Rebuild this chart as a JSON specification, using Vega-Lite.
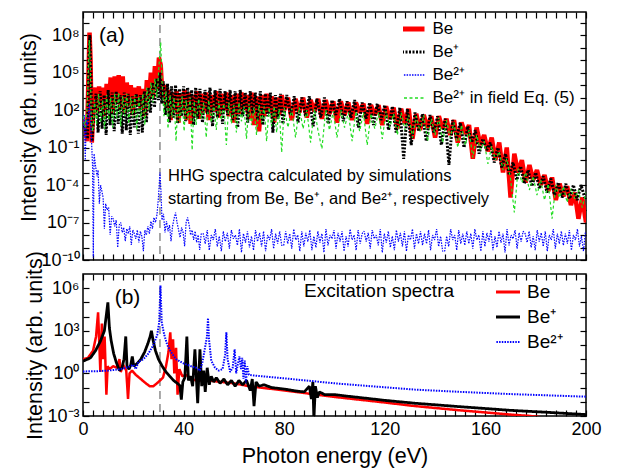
{
"$schema":"https://vega.github.io/schema/vega-lite/v6.json",
"padding":{"left":18,"top":10,"right":5,"bottom":0},
"background":"white",
"config":{
 "font":"Liberation Sans",
 "view":{"stroke":"black","strokeWidth":1.5},
 "axis":{"grid":false,"domain":false,"ticks":true,"tickColor":"black","tickWidth":1.2,"tickSize":-6,"labelFont":"Liberation Sans","labelFontSize":18,"labelColor":"black","labelPadding":10,"labelFlush":false,"labelOverlap":false,"titleFont":"Liberation Sans","titleFontSize":21.5,"titleFontWeight":"normal","titleColor":"black","minExtent":0},
 "legend":{"symbolType":"stroke","labelFont":"Liberation Sans","labelColor":"black","padding":0,"rowPadding":0},
 "text":{"font":"Liberation Sans","color":"black"}
},
"datasets":{
"hhg":[
{"x":0,"y":15.8,"s":"Be"},{"x":1,"y":6.3,"s":"Be"},{"x":1.6,"y":0.32,"s":"Be"},{"x":2.2,"y":1e5,"s":"Be"},{"x":2.6,"y":1.58e8,"s":"Be"},{"x":3,"y":1e6,"s":"Be"},{"x":3.5,"y":0.25,"s":"Be"},{"x":4.2,"y":320,"s":"Be"},{"x":5,"y":6300,"s":"Be"},{"x":5.6,"y":63,"s":"Be"},{"x":6.4,"y":7900,"s":"Be"},{"x":7.2,"y":100,"s":"Be"},{"x":7.8,"y":6300,"s":"Be"},{"x":8.6,"y":32,"s":"Be"},{"x":9.4,"y":12600,"s":"Be"},{"x":10.2,"y":158,"s":"Be"},{"x":11,"y":40000,"s":"Be"},{"x":11.8,"y":50,"s":"Be"},{"x":12.6,"y":50000,"s":"Be"},{"x":13.4,"y":320,"s":"Be"},{"x":14.2,"y":63000,"s":"Be"},{"x":15,"y":100,"s":"Be"},{"x":15.8,"y":50000,"s":"Be"},{"x":16.6,"y":63,"s":"Be"},{"x":17.4,"y":15800,"s":"Be"},{"x":18.2,"y":200,"s":"Be"},{"x":19,"y":10000,"s":"Be"},{"x":19.8,"y":40,"s":"Be"},{"x":20.6,"y":6300,"s":"Be"},{"x":21.4,"y":250,"s":"Be"},{"x":22.2,"y":7900,"s":"Be"},{"x":23,"y":100,"s":"Be"},{"x":23.8,"y":5000,"s":"Be"},{"x":24.6,"y":32,"s":"Be"},{"x":25.4,"y":25000,"s":"Be"},{"x":26.2,"y":630,"s":"Be"},{"x":27,"y":1e5,"s":"Be"},{"x":27.8,"y":1000,"s":"Be"},{"x":28.6,"y":3.2e5,"s":"Be"},{"x":29.4,"y":4000,"s":"Be"},{"x":30.2,"y":1.58e6,"s":"Be"},{"x":30.9,"y":4e5,"s":"Be"},{"x":31.6,"y":1000,"s":"Be"},{"x":32.4,"y":10000,"s":"Be"},{"x":33.2,"y":158,"s":"Be"},{"x":34,"y":4000,"s":"Be"},{"x":34.8,"y":15.8,"s":"Be"},{"x":35.6,"y":2500,"s":"Be"},{"x":36.4,"y":63,"s":"Be"},{"x":37.2,"y":3200,"s":"Be"},{"x":38,"y":10,"s":"Be"},{"x":38.8,"y":2000,"s":"Be"},{"x":39.6,"y":100,"s":"Be"},{"x":40.4,"y":4000,"s":"Be"},{"x":41.2,"y":15.8,"s":"Be"},{"x":42,"y":2500,"s":"Be"},{"x":42.8,"y":7.9,"s":"Be"},{"x":43.6,"y":1580,"s":"Be"},{"x":44.4,"y":40,"s":"Be"},{"x":45.2,"y":3200,"s":"Be"},{"x":46,"y":20,"s":"Be"},{"x":47,"y":2000,"s":"Be"},{"x":48,"y":63,"s":"Be"},{"x":49,"y":2500,"s":"Be"},{"x":50,"y":15.8,"s":"Be"},{"x":51,"y":1580,"s":"Be"},{"x":52,"y":79,"s":"Be"},{"x":53,"y":3200,"s":"Be"},{"x":54,"y":25,"s":"Be"},{"x":55,"y":2000,"s":"Be"},{"x":56,"y":100,"s":"Be"},{"x":57,"y":2500,"s":"Be"},{"x":58,"y":32,"s":"Be"},{"x":59,"y":1580,"s":"Be"},{"x":60,"y":10,"s":"Be"},{"x":61,"y":2000,"s":"Be"},{"x":62,"y":50,"s":"Be"},{"x":63,"y":2500,"s":"Be"},{"x":64,"y":100,"s":"Be"},{"x":65,"y":1580,"s":"Be"},{"x":66,"y":20,"s":"Be"},{"x":67,"y":2500,"s":"Be"},{"x":68,"y":6.3,"s":"Be"},{"x":69,"y":1260,"s":"Be"},{"x":70,"y":2,"s":"Be"},{"x":71,"y":1580,"s":"Be"},{"x":72,"y":32,"s":"Be"},{"x":73,"y":2000,"s":"Be"},{"x":74,"y":63,"s":"Be"},{"x":75,"y":1260,"s":"Be"},{"x":76,"y":10,"s":"Be"},{"x":77,"y":1000,"s":"Be"},{"x":78,"y":40,"s":"Be"},{"x":79,"y":1580,"s":"Be"},{"x":80,"y":100,"s":"Be"},{"x":81.5,"y":1000,"s":"Be"},{"x":83,"y":15.8,"s":"Be"},{"x":84.5,"y":790,"s":"Be"},{"x":86,"y":63,"s":"Be"},{"x":87.5,"y":1000,"s":"Be"},{"x":89,"y":25,"s":"Be"},{"x":90.5,"y":630,"s":"Be"},{"x":92,"y":79,"s":"Be"},{"x":93.5,"y":790,"s":"Be"},{"x":95,"y":20,"s":"Be"},{"x":96.5,"y":630,"s":"Be"},{"x":98,"y":50,"s":"Be"},{"x":99.5,"y":500,"s":"Be"},{"x":101,"y":10,"s":"Be"},{"x":102.5,"y":500,"s":"Be"},{"x":104,"y":40,"s":"Be"},{"x":105.5,"y":400,"s":"Be"},{"x":107,"y":15.8,"s":"Be"},{"x":108.5,"y":400,"s":"Be"},{"x":110,"y":63,"s":"Be"},{"x":111.5,"y":320,"s":"Be"},{"x":113,"y":7.9,"s":"Be"},{"x":114.5,"y":250,"s":"Be"},{"x":116,"y":40,"s":"Be"},{"x":117.5,"y":250,"s":"Be"},{"x":119,"y":6.3,"s":"Be"},{"x":120.5,"y":200,"s":"Be"},{"x":122,"y":20,"s":"Be"},{"x":123.5,"y":158,"s":"Be"},{"x":125,"y":3.2,"s":"Be"},{"x":126.5,"y":126,"s":"Be"},{"x":128,"y":7.9,"s":"Be"},{"x":129.5,"y":126,"s":"Be"},{"x":131,"y":0.5,"s":"Be"},{"x":132.5,"y":50,"s":"Be"},{"x":134,"y":2.5,"s":"Be"},{"x":135.5,"y":40,"s":"Be"},{"x":137,"y":4,"s":"Be"},{"x":138.5,"y":32,"s":"Be"},{"x":140,"y":0.63,"s":"Be"},{"x":141.5,"y":32,"s":"Be"},{"x":143,"y":3.2,"s":"Be"},{"x":144.5,"y":20,"s":"Be"},{"x":146,"y":1,"s":"Be"},{"x":147.5,"y":15.8,"s":"Be"},{"x":149,"y":0.25,"s":"Be"},{"x":150.5,"y":10,"s":"Be"},{"x":152,"y":1.26,"s":"Be"},{"x":153.5,"y":6.3,"s":"Be"},{"x":155,"y":0.0126,"s":"Be"},{"x":156.5,"y":4,"s":"Be"},{"x":158,"y":0.158,"s":"Be"},{"x":159.5,"y":1,"s":"Be"},{"x":161,"y":0.05,"s":"Be"},{"x":162.5,"y":0.63,"s":"Be"},{"x":164,"y":0.01,"s":"Be"},{"x":165.5,"y":0.25,"s":"Be"},{"x":167,"y":0.001,"s":"Be"},{"x":168.5,"y":0.1,"s":"Be"},{"x":170,"y":1e-5,"s":"Be"},{"x":171.5,"y":0.032,"s":"Be"},{"x":173,"y":0.001,"s":"Be"},{"x":174.5,"y":0.01,"s":"Be"},{"x":176,"y":1.58e-4,"s":"Be"},{"x":177.5,"y":0.004,"s":"Be"},{"x":179,"y":2.5e-4,"s":"Be"},{"x":180.5,"y":0.00158,"s":"Be"},{"x":182,"y":1e-4,"s":"Be"},{"x":183.5,"y":6.3e-4,"s":"Be"},{"x":185,"y":3.2e-5,"s":"Be"},{"x":186.5,"y":4e-4,"s":"Be"},{"x":188,"y":6.3e-6,"s":"Be"},{"x":189.5,"y":1.26e-4,"s":"Be"},{"x":191,"y":1.26e-5,"s":"Be"},{"x":192.5,"y":7.9e-5,"s":"Be"},{"x":194,"y":2.5e-6,"s":"Be"},{"x":195.5,"y":2.5e-5,"s":"Be"},{"x":197,"y":2e-7,"s":"Be"},{"x":198.5,"y":1e-5,"s":"Be"},{"x":200,"y":1e-7,"s":"Be"},
{"x":0,"y":10,"s":"Be⁺"},{"x":1,"y":2.5,"s":"Be⁺"},{"x":1.8,"y":0.5,"s":"Be⁺"},{"x":2.3,"y":1e6,"s":"Be⁺"},{"x":2.7,"y":1e8,"s":"Be⁺"},{"x":3.1,"y":1e5,"s":"Be⁺"},{"x":3.6,"y":0.32,"s":"Be⁺"},{"x":4.4,"y":100,"s":"Be⁺"},{"x":5.2,"y":2000,"s":"Be⁺"},{"x":6,"y":1.58,"s":"Be⁺"},{"x":6.8,"y":3200,"s":"Be⁺"},{"x":7.6,"y":3.2,"s":"Be⁺"},{"x":8.4,"y":1580,"s":"Be⁺"},{"x":9.2,"y":1,"s":"Be⁺"},{"x":10,"y":4000,"s":"Be⁺"},{"x":10.8,"y":6.3,"s":"Be⁺"},{"x":11.6,"y":2500,"s":"Be⁺"},{"x":12.4,"y":2,"s":"Be⁺"},{"x":13.2,"y":3200,"s":"Be⁺"},{"x":14,"y":7.9,"s":"Be⁺"},{"x":14.8,"y":1580,"s":"Be⁺"},{"x":15.6,"y":1.26,"s":"Be⁺"},{"x":16.4,"y":2500,"s":"Be⁺"},{"x":17.2,"y":2.5,"s":"Be⁺"},{"x":18,"y":2000,"s":"Be⁺"},{"x":18.8,"y":1,"s":"Be⁺"},{"x":19.6,"y":1260,"s":"Be⁺"},{"x":20.4,"y":4,"s":"Be⁺"},{"x":21.2,"y":2000,"s":"Be⁺"},{"x":22,"y":1.26,"s":"Be⁺"},{"x":22.8,"y":1580,"s":"Be⁺"},{"x":23.6,"y":1.58,"s":"Be⁺"},{"x":24.4,"y":3200,"s":"Be⁺"},{"x":25.2,"y":10,"s":"Be⁺"},{"x":26,"y":6300,"s":"Be⁺"},{"x":26.8,"y":63,"s":"Be⁺"},{"x":27.6,"y":15800,"s":"Be⁺"},{"x":28.4,"y":158,"s":"Be⁺"},{"x":29.2,"y":32000,"s":"Be⁺"},{"x":30,"y":630,"s":"Be⁺"},{"x":30.6,"y":1e5,"s":"Be⁺"},{"x":31.3,"y":320,"s":"Be⁺"},{"x":32,"y":20000,"s":"Be⁺"},{"x":32.8,"y":40,"s":"Be⁺"},{"x":33.6,"y":12600,"s":"Be⁺"},{"x":34.4,"y":10,"s":"Be⁺"},{"x":35.2,"y":7900,"s":"Be⁺"},{"x":36,"y":25,"s":"Be⁺"},{"x":36.8,"y":10000,"s":"Be⁺"},{"x":37.6,"y":7.9,"s":"Be⁺"},{"x":38.4,"y":5000,"s":"Be⁺"},{"x":39.2,"y":32,"s":"Be⁺"},{"x":40,"y":7900,"s":"Be⁺"},{"x":40.8,"y":12.6,"s":"Be⁺"},{"x":41.6,"y":6300,"s":"Be⁺"},{"x":42.4,"y":40,"s":"Be⁺"},{"x":43.2,"y":4000,"s":"Be⁺"},{"x":44,"y":6.3,"s":"Be⁺"},{"x":44.8,"y":6300,"s":"Be⁺"},{"x":45.6,"y":20,"s":"Be⁺"},{"x":46.5,"y":5000,"s":"Be⁺"},{"x":47.5,"y":10,"s":"Be⁺"},{"x":48.5,"y":4000,"s":"Be⁺"},{"x":49.5,"y":50,"s":"Be⁺"},{"x":50.5,"y":6300,"s":"Be⁺"},{"x":51.5,"y":5,"s":"Be⁺"},{"x":52.5,"y":4000,"s":"Be⁺"},{"x":53.5,"y":25,"s":"Be⁺"},{"x":54.5,"y":5000,"s":"Be⁺"},{"x":55.5,"y":7.9,"s":"Be⁺"},{"x":56.5,"y":3200,"s":"Be⁺"},{"x":57.5,"y":40,"s":"Be⁺"},{"x":58.5,"y":4000,"s":"Be⁺"},{"x":59.5,"y":15.8,"s":"Be⁺"},{"x":60.5,"y":3200,"s":"Be⁺"},{"x":61.5,"y":4,"s":"Be⁺"},{"x":62.5,"y":4000,"s":"Be⁺"},{"x":63.5,"y":32,"s":"Be⁺"},{"x":64.5,"y":2500,"s":"Be⁺"},{"x":65.5,"y":10,"s":"Be⁺"},{"x":66.5,"y":3200,"s":"Be⁺"},{"x":67.5,"y":50,"s":"Be⁺"},{"x":68.5,"y":2500,"s":"Be⁺"},{"x":69.5,"y":15.8,"s":"Be⁺"},{"x":70.5,"y":3200,"s":"Be⁺"},{"x":71.5,"y":6.3,"s":"Be⁺"},{"x":72.5,"y":2000,"s":"Be⁺"},{"x":73.5,"y":32,"s":"Be⁺"},{"x":74.5,"y":2500,"s":"Be⁺"},{"x":75.5,"y":1.58,"s":"Be⁺"},{"x":76.5,"y":1580,"s":"Be⁺"},{"x":77.5,"y":20,"s":"Be⁺"},{"x":78.5,"y":2000,"s":"Be⁺"},{"x":79.5,"y":7.9,"s":"Be⁺"},{"x":81,"y":1580,"s":"Be⁺"},{"x":82.5,"y":40,"s":"Be⁺"},{"x":84,"y":1260,"s":"Be⁺"},{"x":85.5,"y":10,"s":"Be⁺"},{"x":87,"y":1000,"s":"Be⁺"},{"x":88.5,"y":32,"s":"Be⁺"},{"x":90,"y":1260,"s":"Be⁺"},{"x":91.5,"y":5,"s":"Be⁺"},{"x":93,"y":790,"s":"Be⁺"},{"x":94.5,"y":25,"s":"Be⁺"},{"x":96,"y":1000,"s":"Be⁺"},{"x":97.5,"y":7.9,"s":"Be⁺"},{"x":99,"y":630,"s":"Be⁺"},{"x":100.5,"y":40,"s":"Be⁺"},{"x":102,"y":790,"s":"Be⁺"},{"x":103.5,"y":12.6,"s":"Be⁺"},{"x":105,"y":500,"s":"Be⁺"},{"x":106.5,"y":25,"s":"Be⁺"},{"x":108,"y":630,"s":"Be⁺"},{"x":109.5,"y":4,"s":"Be⁺"},{"x":111,"y":400,"s":"Be⁺"},{"x":112.5,"y":20,"s":"Be⁺"},{"x":114,"y":400,"s":"Be⁺"},{"x":115.5,"y":6.3,"s":"Be⁺"},{"x":117,"y":320,"s":"Be⁺"},{"x":118.5,"y":15.8,"s":"Be⁺"},{"x":120,"y":250,"s":"Be⁺"},{"x":121.5,"y":2.5,"s":"Be⁺"},{"x":123,"y":200,"s":"Be⁺"},{"x":124.5,"y":1.58,"s":"Be⁺"},{"x":126,"y":158,"s":"Be⁺"},{"x":127.5,"y":0.0126,"s":"Be⁺"},{"x":129,"y":126,"s":"Be⁺"},{"x":130.5,"y":0.158,"s":"Be⁺"},{"x":132,"y":63,"s":"Be⁺"},{"x":133.5,"y":2,"s":"Be⁺"},{"x":135,"y":50,"s":"Be⁺"},{"x":136.5,"y":0.32,"s":"Be⁺"},{"x":138,"y":40,"s":"Be⁺"},{"x":139.5,"y":1.58,"s":"Be⁺"},{"x":141,"y":32,"s":"Be⁺"},{"x":142.5,"y":0.158,"s":"Be⁺"},{"x":144,"y":20,"s":"Be⁺"},{"x":145.5,"y":0.004,"s":"Be⁺"},{"x":147,"y":15.8,"s":"Be⁺"},{"x":148.5,"y":0.5,"s":"Be⁺"},{"x":150,"y":10,"s":"Be⁺"},{"x":151.5,"y":0.1,"s":"Be⁺"},{"x":153,"y":5,"s":"Be⁺"},{"x":154.5,"y":0.25,"s":"Be⁺"},{"x":156,"y":2.5,"s":"Be⁺"},{"x":157.5,"y":0.032,"s":"Be⁺"},{"x":159,"y":0.5,"s":"Be⁺"},{"x":160.5,"y":0.063,"s":"Be⁺"},{"x":162,"y":0.25,"s":"Be⁺"},{"x":163.5,"y":0.0063,"s":"Be⁺"},{"x":165,"y":0.1,"s":"Be⁺"},{"x":166.5,"y":0.0025,"s":"Be⁺"},{"x":168,"y":0.032,"s":"Be⁺"},{"x":169.5,"y":6.3e-4,"s":"Be⁺"},{"x":171,"y":0.0063,"s":"Be⁺"},{"x":172.5,"y":2.5e-4,"s":"Be⁺"},{"x":174,"y":0.0032,"s":"Be⁺"},{"x":175.5,"y":1.26e-4,"s":"Be⁺"},{"x":177,"y":0.00158,"s":"Be⁺"},{"x":178.5,"y":7.9e-5,"s":"Be⁺"},{"x":180,"y":0.001,"s":"Be⁺"},{"x":181.5,"y":5e-5,"s":"Be⁺"},{"x":183,"y":5e-4,"s":"Be⁺"},{"x":184.5,"y":2.5e-5,"s":"Be⁺"},{"x":186,"y":3.2e-4,"s":"Be⁺"},{"x":187.5,"y":1.58e-5,"s":"Be⁺"},{"x":189,"y":1.58e-4,"s":"Be⁺"},{"x":190.5,"y":1e-5,"s":"Be⁺"},{"x":192,"y":1.26e-4,"s":"Be⁺"},{"x":193.5,"y":7.9e-6,"s":"Be⁺"},{"x":195,"y":1e-4,"s":"Be⁺"},{"x":196.5,"y":6.3e-6,"s":"Be⁺"},{"x":198,"y":1e-4,"s":"Be⁺"},{"x":199.5,"y":1e-5,"s":"Be⁺"},
{"x":0,"y":3.2,"s":"Be²⁺"},{"x":0.5,"y":40,"s":"Be²⁺"},{"x":0.9,"y":0.01,"s":"Be²⁺"},{"x":1.3,"y":15.8,"s":"Be²⁺"},{"x":1.8,"y":6.3,"s":"Be²⁺"},{"x":2.2,"y":63,"s":"Be²⁺"},{"x":2.6,"y":320,"s":"Be²⁺"},{"x":3,"y":10,"s":"Be²⁺"},{"x":3.4,"y":0.32,"s":"Be²⁺"},{"x":3.8,"y":0.0032,"s":"Be²⁺"},{"x":4.1,"y":1.58e-10,"s":"Be²⁺"},{"x":4.4,"y":0.032,"s":"Be²⁺"},{"x":5,"y":0.0032,"s":"Be²⁺"},{"x":5.6,"y":5e-4,"s":"Be²⁺"},{"x":6,"y":0.00158,"s":"Be²⁺"},{"x":6.5,"y":3.2e-6,"s":"Be²⁺"},{"x":7,"y":1e-4,"s":"Be²⁺"},{"x":7.5,"y":3.2e-5,"s":"Be²⁺"},{"x":8,"y":1e-5,"s":"Be²⁺"},{"x":8.5,"y":3.2e-8,"s":"Be²⁺"},{"x":9,"y":3.2e-6,"s":"Be²⁺"},{"x":9.6,"y":1e-6,"s":"Be²⁺"},{"x":10.2,"y":1.58e-6,"s":"Be²⁺"},{"x":10.8,"y":1e-8,"s":"Be²⁺"},{"x":11.4,"y":3.2e-7,"s":"Be²⁺"},{"x":12,"y":2e-7,"s":"Be²⁺"},{"x":12.6,"y":5e-8,"s":"Be²⁺"},{"x":13.2,"y":1.58e-7,"s":"Be²⁺"},{"x":13.8,"y":1e-9,"s":"Be²⁺"},{"x":14.4,"y":6.3e-8,"s":"Be²⁺"},{"x":15,"y":1e-7,"s":"Be²⁺"},{"x":15.6,"y":1.58e-8,"s":"Be²⁺"},{"x":16.2,"y":4e-8,"s":"Be²⁺"},{"x":16.8,"y":3.2e-9,"s":"Be²⁺"},{"x":17.4,"y":3.2e-8,"s":"Be²⁺"},{"x":18,"y":1.26e-8,"s":"Be²⁺"},{"x":18.6,"y":5e-8,"s":"Be²⁺"},{"x":19.2,"y":1.58e-9,"s":"Be²⁺"},{"x":19.8,"y":2.5e-8,"s":"Be²⁺"},{"x":20.4,"y":1.26e-8,"s":"Be²⁺"},{"x":21,"y":5e-9,"s":"Be²⁺"},{"x":21.6,"y":2.5e-8,"s":"Be²⁺"},{"x":22.2,"y":2.5e-9,"s":"Be²⁺"},{"x":22.8,"y":2e-8,"s":"Be²⁺"},{"x":23.4,"y":7.9e-9,"s":"Be²⁺"},{"x":24,"y":5e-10,"s":"Be²⁺"},{"x":24.6,"y":2.5e-8,"s":"Be²⁺"},{"x":25.2,"y":1e-8,"s":"Be²⁺"},{"x":25.8,"y":5e-8,"s":"Be²⁺"},{"x":26.4,"y":1.26e-8,"s":"Be²⁺"},{"x":27,"y":1.26e-7,"s":"Be²⁺"},{"x":27.6,"y":3.2e-8,"s":"Be²⁺"},{"x":28.2,"y":2.5e-7,"s":"Be²⁺"},{"x":28.8,"y":1e-7,"s":"Be²⁺"},{"x":29.4,"y":4e-7,"s":"Be²⁺"},{"x":30,"y":1e-5,"s":"Be²⁺"},{"x":30.6,"y":1e-3,"s":"Be²⁺"},{"x":31,"y":3.2e-5,"s":"Be²⁺"},{"x":31.4,"y":1.58e-7,"s":"Be²⁺"},{"x":32,"y":5e-7,"s":"Be²⁺"},{"x":32.6,"y":1.58e-8,"s":"Be²⁺"},{"x":33.2,"y":1.26e-7,"s":"Be²⁺"},{"x":33.8,"y":2e-8,"s":"Be²⁺"},{"x":34.4,"y":6.3e-8,"s":"Be²⁺"},{"x":35,"y":3.2e-9,"s":"Be²⁺"},{"x":35.6,"y":5e-8,"s":"Be²⁺"},{"x":36.2,"y":2e-7,"s":"Be²⁺"},{"x":36.8,"y":6.3e-7,"s":"Be²⁺"},{"x":37.4,"y":1e-7,"s":"Be²⁺"},{"x":38,"y":2.5e-8,"s":"Be²⁺"},{"x":38.6,"y":6.3e-9,"s":"Be²⁺"},{"x":39.2,"y":4e-8,"s":"Be²⁺"},{"x":39.8,"y":1.58e-8,"s":"Be²⁺"},{"x":40.4,"y":1.26e-9,"s":"Be²⁺"},{"x":41,"y":1e-7,"s":"Be²⁺"},{"x":41.6,"y":2.5e-7,"s":"Be²⁺"},{"x":42.2,"y":6.3e-8,"s":"Be²⁺"},{"x":42.8,"y":1e-8,"s":"Be²⁺"},{"x":43.4,"y":2.5e-8,"s":"Be²⁺"},{"x":44,"y":4e-9,"s":"Be²⁺"},{"x":44.6,"y":2e-8,"s":"Be²⁺"},{"x":45.2,"y":2.5e-9,"s":"Be²⁺"},{"x":45.8,"y":1e-8,"s":"Be²⁺"},{"x":46.4,"y":6.3e-10,"s":"Be²⁺"},{"x":47,"y":1.26e-8,"s":"Be²⁺"},
{"x":47.8,"y":1.3e-8,"s":"Be²⁺"},{"x":48.6,"y":2e-9,"s":"Be²⁺"},{"x":49.4,"y":2.5e-8,"s":"Be²⁺"},{"x":50.2,"y":6e-10,"s":"Be²⁺"},{"x":51,"y":1e-8,"s":"Be²⁺"},{"x":51.8,"y":4e-9,"s":"Be²⁺"},{"x":52.6,"y":3e-8,"s":"Be²⁺"},{"x":53.4,"y":1.2e-9,"s":"Be²⁺"},{"x":54.2,"y":8e-9,"s":"Be²⁺"},{"x":55,"y":5e-10,"s":"Be²⁺"},{"x":55.8,"y":2e-8,"s":"Be²⁺"},{"x":56.6,"y":3e-9,"s":"Be²⁺"},{"x":57.4,"y":1.5e-8,"s":"Be²⁺"},{"x":58.2,"y":8e-10,"s":"Be²⁺"},{"x":59,"y":2.5e-8,"s":"Be²⁺"},{"x":59.8,"y":5e-9,"s":"Be²⁺"},{"x":60.6,"y":1e-8,"s":"Be²⁺"},{"x":61.4,"y":1.5e-9,"s":"Be²⁺"},{"x":62.2,"y":3e-8,"s":"Be²⁺"},{"x":63,"y":4e-10,"s":"Be²⁺"},{"x":63.8,"y":1.3e-8,"s":"Be²⁺"},{"x":64.6,"y":2.5e-9,"s":"Be²⁺"},{"x":65.4,"y":2e-8,"s":"Be²⁺"},{"x":66.2,"y":1e-9,"s":"Be²⁺"},{"x":67,"y":8e-9,"s":"Be²⁺"},{"x":67.8,"y":6e-10,"s":"Be²⁺"},{"x":68.6,"y":2.5e-8,"s":"Be²⁺"},{"x":69.4,"y":3e-9,"s":"Be²⁺"},{"x":70.2,"y":1.5e-8,"s":"Be²⁺"},{"x":71,"y":1.2e-9,"s":"Be²⁺"},{"x":71.8,"y":2e-8,"s":"Be²⁺"},{"x":72.6,"y":5e-10,"s":"Be²⁺"},{"x":73.4,"y":1e-8,"s":"Be²⁺"},{"x":74.2,"y":4e-9,"s":"Be²⁺"},{"x":75,"y":3e-8,"s":"Be²⁺"},{"x":75.8,"y":8e-10,"s":"Be²⁺"},{"x":76.6,"y":1.3e-8,"s":"Be²⁺"},{"x":77.4,"y":2e-9,"s":"Be²⁺"},{"x":78.2,"y":2e-8,"s":"Be²⁺"},{"x":79,"y":1.5e-9,"s":"Be²⁺"},
{"x":79.8,"y":1.5e-9,"s":"Be²⁺"},{"x":80.6,"y":2e-8,"s":"Be²⁺"},{"x":81.4,"y":2e-9,"s":"Be²⁺"},{"x":82.2,"y":1.3e-8,"s":"Be²⁺"},{"x":83,"y":8e-10,"s":"Be²⁺"},{"x":83.8,"y":3e-8,"s":"Be²⁺"},{"x":84.6,"y":4e-9,"s":"Be²⁺"},{"x":85.4,"y":1e-8,"s":"Be²⁺"},{"x":86.2,"y":5e-10,"s":"Be²⁺"},{"x":87,"y":2e-8,"s":"Be²⁺"},{"x":87.8,"y":1.2e-9,"s":"Be²⁺"},{"x":88.6,"y":1.5e-8,"s":"Be²⁺"},{"x":89.4,"y":3e-9,"s":"Be²⁺"},{"x":90.2,"y":2.5e-8,"s":"Be²⁺"},{"x":91,"y":6e-10,"s":"Be²⁺"},{"x":91.8,"y":8e-9,"s":"Be²⁺"},{"x":92.6,"y":1e-9,"s":"Be²⁺"},{"x":93.4,"y":2e-8,"s":"Be²⁺"},{"x":94.2,"y":2.5e-9,"s":"Be²⁺"},{"x":95,"y":1.3e-8,"s":"Be²⁺"},{"x":95.8,"y":4e-10,"s":"Be²⁺"},{"x":96.6,"y":3e-8,"s":"Be²⁺"},{"x":97.4,"y":1.5e-9,"s":"Be²⁺"},{"x":98.2,"y":1e-8,"s":"Be²⁺"},{"x":99,"y":5e-9,"s":"Be²⁺"},{"x":99.8,"y":2.5e-8,"s":"Be²⁺"},{"x":100.6,"y":8e-10,"s":"Be²⁺"},{"x":101.4,"y":1.5e-8,"s":"Be²⁺"},{"x":102.2,"y":3e-9,"s":"Be²⁺"},{"x":103,"y":2e-8,"s":"Be²⁺"},{"x":103.8,"y":5e-10,"s":"Be²⁺"},{"x":104.6,"y":8e-9,"s":"Be²⁺"},{"x":105.4,"y":1.2e-9,"s":"Be²⁺"},{"x":106.2,"y":3e-8,"s":"Be²⁺"},{"x":107,"y":4e-9,"s":"Be²⁺"},{"x":107.8,"y":1e-8,"s":"Be²⁺"},{"x":108.6,"y":6e-10,"s":"Be²⁺"},{"x":109.4,"y":2.5e-8,"s":"Be²⁺"},{"x":110.2,"y":2e-9,"s":"Be²⁺"},{"x":111,"y":1.3e-8,"s":"Be²⁺"},
{"x":111.8,"y":2e-8,"s":"Be²⁺"},{"x":112.6,"y":3e-9,"s":"Be²⁺"},{"x":113.4,"y":1.5e-8,"s":"Be²⁺"},{"x":114.2,"y":8e-10,"s":"Be²⁺"},{"x":115,"y":2.5e-8,"s":"Be²⁺"},{"x":115.8,"y":5e-9,"s":"Be²⁺"},{"x":116.6,"y":1e-8,"s":"Be²⁺"},{"x":117.4,"y":1.5e-9,"s":"Be²⁺"},{"x":118.2,"y":3e-8,"s":"Be²⁺"},{"x":119,"y":4e-10,"s":"Be²⁺"},{"x":119.8,"y":1.3e-8,"s":"Be²⁺"},{"x":120.6,"y":2.5e-9,"s":"Be²⁺"},{"x":121.4,"y":2e-8,"s":"Be²⁺"},{"x":122.2,"y":1e-9,"s":"Be²⁺"},{"x":123,"y":8e-9,"s":"Be²⁺"},{"x":123.8,"y":6e-10,"s":"Be²⁺"},{"x":124.6,"y":2.5e-8,"s":"Be²⁺"},{"x":125.4,"y":3e-9,"s":"Be²⁺"},{"x":126.2,"y":1.5e-8,"s":"Be²⁺"},{"x":127,"y":1.2e-9,"s":"Be²⁺"},{"x":127.8,"y":2e-8,"s":"Be²⁺"},{"x":128.6,"y":5e-10,"s":"Be²⁺"},{"x":129.4,"y":1e-8,"s":"Be²⁺"},{"x":130.2,"y":4e-9,"s":"Be²⁺"},{"x":131,"y":3e-8,"s":"Be²⁺"},{"x":131.8,"y":8e-10,"s":"Be²⁺"},{"x":132.6,"y":1.3e-8,"s":"Be²⁺"},{"x":133.4,"y":2e-9,"s":"Be²⁺"},{"x":134.2,"y":2e-8,"s":"Be²⁺"},{"x":135,"y":1.5e-9,"s":"Be²⁺"},{"x":135.8,"y":1.3e-8,"s":"Be²⁺"},{"x":136.6,"y":2e-9,"s":"Be²⁺"},{"x":137.4,"y":2.5e-8,"s":"Be²⁺"},{"x":138.2,"y":6e-10,"s":"Be²⁺"},{"x":139,"y":1e-8,"s":"Be²⁺"},{"x":139.8,"y":4e-9,"s":"Be²⁺"},{"x":140.6,"y":3e-8,"s":"Be²⁺"},{"x":141.4,"y":1.2e-9,"s":"Be²⁺"},{"x":142.2,"y":8e-9,"s":"Be²⁺"},{"x":143,"y":5e-10,"s":"Be²⁺"},
{"x":143.8,"y":5e-10,"s":"Be²⁺"},{"x":144.6,"y":8e-9,"s":"Be²⁺"},{"x":145.4,"y":1.2e-9,"s":"Be²⁺"},{"x":146.2,"y":3e-8,"s":"Be²⁺"},{"x":147,"y":4e-9,"s":"Be²⁺"},{"x":147.8,"y":1e-8,"s":"Be²⁺"},{"x":148.6,"y":6e-10,"s":"Be²⁺"},{"x":149.4,"y":2.5e-8,"s":"Be²⁺"},{"x":150.2,"y":2e-9,"s":"Be²⁺"},{"x":151,"y":1.3e-8,"s":"Be²⁺"},{"x":151.8,"y":1.5e-9,"s":"Be²⁺"},{"x":152.6,"y":2e-8,"s":"Be²⁺"},{"x":153.4,"y":2e-9,"s":"Be²⁺"},{"x":154.2,"y":1.3e-8,"s":"Be²⁺"},{"x":155,"y":8e-10,"s":"Be²⁺"},{"x":155.8,"y":3e-8,"s":"Be²⁺"},{"x":156.6,"y":4e-9,"s":"Be²⁺"},{"x":157.4,"y":1e-8,"s":"Be²⁺"},{"x":158.2,"y":5e-10,"s":"Be²⁺"},{"x":159,"y":2e-8,"s":"Be²⁺"},{"x":159.8,"y":1.2e-9,"s":"Be²⁺"},{"x":160.6,"y":1.5e-8,"s":"Be²⁺"},{"x":161.4,"y":3e-9,"s":"Be²⁺"},{"x":162.2,"y":2.5e-8,"s":"Be²⁺"},{"x":163,"y":6e-10,"s":"Be²⁺"},{"x":163.8,"y":8e-9,"s":"Be²⁺"},{"x":164.6,"y":1e-9,"s":"Be²⁺"},{"x":165.4,"y":2e-8,"s":"Be²⁺"},{"x":166.2,"y":2.5e-9,"s":"Be²⁺"},{"x":167,"y":1.3e-8,"s":"Be²⁺"},{"x":167.8,"y":4e-10,"s":"Be²⁺"},{"x":168.6,"y":3e-8,"s":"Be²⁺"},{"x":169.4,"y":1.5e-9,"s":"Be²⁺"},{"x":170.2,"y":1e-8,"s":"Be²⁺"},{"x":171,"y":5e-9,"s":"Be²⁺"},{"x":171.8,"y":2.5e-8,"s":"Be²⁺"},{"x":172.6,"y":8e-10,"s":"Be²⁺"},{"x":173.4,"y":1.5e-8,"s":"Be²⁺"},{"x":174.2,"y":3e-9,"s":"Be²⁺"},{"x":175,"y":2e-8,"s":"Be²⁺"},
{"x":175.8,"y":1.3e-8,"s":"Be²⁺"},{"x":176.6,"y":2.5e-9,"s":"Be²⁺"},{"x":177.4,"y":2e-8,"s":"Be²⁺"},{"x":178.2,"y":1e-9,"s":"Be²⁺"},{"x":179,"y":8e-9,"s":"Be²⁺"},{"x":179.8,"y":6e-10,"s":"Be²⁺"},{"x":180.6,"y":2.5e-8,"s":"Be²⁺"},{"x":181.4,"y":3e-9,"s":"Be²⁺"},{"x":182.2,"y":1.5e-8,"s":"Be²⁺"},{"x":183,"y":1.2e-9,"s":"Be²⁺"},{"x":183.8,"y":2e-8,"s":"Be²⁺"},{"x":184.6,"y":5e-10,"s":"Be²⁺"},{"x":185.4,"y":1e-8,"s":"Be²⁺"},{"x":186.2,"y":4e-9,"s":"Be²⁺"},{"x":187,"y":3e-8,"s":"Be²⁺"},{"x":187.8,"y":8e-10,"s":"Be²⁺"},{"x":188.6,"y":1.3e-8,"s":"Be²⁺"},{"x":189.4,"y":2e-9,"s":"Be²⁺"},{"x":190.2,"y":2e-8,"s":"Be²⁺"},{"x":191,"y":1.5e-9,"s":"Be²⁺"},{"x":191.8,"y":1.3e-8,"s":"Be²⁺"},{"x":192.6,"y":2e-9,"s":"Be²⁺"},{"x":193.4,"y":2.5e-8,"s":"Be²⁺"},{"x":194.2,"y":6e-10,"s":"Be²⁺"},{"x":195,"y":1e-8,"s":"Be²⁺"},{"x":195.8,"y":4e-9,"s":"Be²⁺"},{"x":196.6,"y":3e-8,"s":"Be²⁺"},{"x":197.4,"y":1.2e-9,"s":"Be²⁺"},{"x":198.2,"y":8e-9,"s":"Be²⁺"},{"x":199,"y":5e-10,"s":"Be²⁺"},{"x":199.8,"y":2e-8,"s":"Be²⁺"},
{"x":0,"y":32,"s":"Be²⁺ in field Eq. (5)"},{"x":0.8,"y":4,"s":"Be²⁺ in field Eq. (5)"},{"x":1.5,"y":63,"s":"Be²⁺ in field Eq. (5)"},{"x":2,"y":1e4,"s":"Be²⁺ in field Eq. (5)"},{"x":2.5,"y":4e7,"s":"Be²⁺ in field Eq. (5)"},{"x":2.9,"y":3.2e5,"s":"Be²⁺ in field Eq. (5)"},{"x":3.3,"y":10,"s":"Be²⁺ in field Eq. (5)"},{"x":3.9,"y":2,"s":"Be²⁺ in field Eq. (5)"},{"x":4.6,"y":630,"s":"Be²⁺ in field Eq. (5)"},{"x":5.4,"y":6.3,"s":"Be²⁺ in field Eq. (5)"},{"x":6.2,"y":2000,"s":"Be²⁺ in field Eq. (5)"},{"x":7,"y":10,"s":"Be²⁺ in field Eq. (5)"},{"x":7.8,"y":630,"s":"Be²⁺ in field Eq. (5)"},{"x":8.6,"y":3.2,"s":"Be²⁺ in field Eq. (5)"},{"x":9.4,"y":1580,"s":"Be²⁺ in field Eq. (5)"},{"x":10.2,"y":15.8,"s":"Be²⁺ in field Eq. (5)"},{"x":11,"y":1000,"s":"Be²⁺ in field Eq. (5)"},{"x":11.8,"y":4,"s":"Be²⁺ in field Eq. (5)"},{"x":12.6,"y":2000,"s":"Be²⁺ in field Eq. (5)"},{"x":13.4,"y":20,"s":"Be²⁺ in field Eq. (5)"},{"x":14.2,"y":2500,"s":"Be²⁺ in field Eq. (5)"},{"x":15,"y":5,"s":"Be²⁺ in field Eq. (5)"},{"x":15.8,"y":1260,"s":"Be²⁺ in field Eq. (5)"},{"x":16.6,"y":32,"s":"Be²⁺ in field Eq. (5)"},{"x":17.4,"y":2000,"s":"Be²⁺ in field Eq. (5)"},{"x":18.2,"y":7.9,"s":"Be²⁺ in field Eq. (5)"},{"x":19,"y":1000,"s":"Be²⁺ in field Eq. (5)"},{"x":19.8,"y":25,"s":"Be²⁺ in field Eq. (5)"},{"x":20.6,"y":1580,"s":"Be²⁺ in field Eq. (5)"},{"x":21.4,"y":2.5,"s":"Be²⁺ in field Eq. (5)"},{"x":22.2,"y":1260,"s":"Be²⁺ in field Eq. (5)"},{"x":23,"y":15.8,"s":"Be²⁺ in field Eq. (5)"},{"x":23.8,"y":2000,"s":"Be²⁺ in field Eq. (5)"},{"x":24.6,"y":6.3,"s":"Be²⁺ in field Eq. (5)"},{"x":25.4,"y":6300,"s":"Be²⁺ in field Eq. (5)"},{"x":26.2,"y":100,"s":"Be²⁺ in field Eq. (5)"},{"x":27,"y":15800,"s":"Be²⁺ in field Eq. (5)"},{"x":27.8,"y":400,"s":"Be²⁺ in field Eq. (5)"},{"x":28.6,"y":32000,"s":"Be²⁺ in field Eq. (5)"},{"x":29.4,"y":1000,"s":"Be²⁺ in field Eq. (5)"},{"x":30.2,"y":3.2e5,"s":"Be²⁺ in field Eq. (5)"},{"x":30.9,"y":2.5e7,"s":"Be²⁺ in field Eq. (5)"},{"x":31.5,"y":1e4,"s":"Be²⁺ in field Eq. (5)"},{"x":32.2,"y":32,"s":"Be²⁺ in field Eq. (5)"},{"x":33,"y":3200,"s":"Be²⁺ in field Eq. (5)"},{"x":33.8,"y":3.2,"s":"Be²⁺ in field Eq. (5)"},{"x":34.6,"y":1580,"s":"Be²⁺ in field Eq. (5)"},{"x":35.4,"y":25,"s":"Be²⁺ in field Eq. (5)"},{"x":36.2,"y":1000,"s":"Be²⁺ in field Eq. (5)"},{"x":37,"y":0.32,"s":"Be²⁺ in field Eq. (5)"},{"x":37.8,"y":790,"s":"Be²⁺ in field Eq. (5)"},{"x":38.6,"y":10,"s":"Be²⁺ in field Eq. (5)"},{"x":39.4,"y":1260,"s":"Be²⁺ in field Eq. (5)"},{"x":40.2,"y":2,"s":"Be²⁺ in field Eq. (5)"},{"x":41,"y":630,"s":"Be²⁺ in field Eq. (5)"},{"x":41.8,"y":15.8,"s":"Be²⁺ in field Eq. (5)"},{"x":42.6,"y":1000,"s":"Be²⁺ in field Eq. (5)"},{"x":43.4,"y":0.063,"s":"Be²⁺ in field Eq. (5)"},{"x":44.2,"y":500,"s":"Be²⁺ in field Eq. (5)"},{"x":45,"y":6.3,"s":"Be²⁺ in field Eq. (5)"},{"x":46,"y":790,"s":"Be²⁺ in field Eq. (5)"},{"x":47,"y":20,"s":"Be²⁺ in field Eq. (5)"},{"x":48,"y":400,"s":"Be²⁺ in field Eq. (5)"},{"x":49,"y":0.63,"s":"Be²⁺ in field Eq. (5)"},{"x":50,"y":630,"s":"Be²⁺ in field Eq. (5)"},{"x":51,"y":10,"s":"Be²⁺ in field Eq. (5)"},{"x":52,"y":320,"s":"Be²⁺ in field Eq. (5)"},{"x":53,"y":2.5,"s":"Be²⁺ in field Eq. (5)"},{"x":54,"y":500,"s":"Be²⁺ in field Eq. (5)"},{"x":55,"y":15.8,"s":"Be²⁺ in field Eq. (5)"},{"x":56,"y":320,"s":"Be²⁺ in field Eq. (5)"},{"x":57,"y":0.158,"s":"Be²⁺ in field Eq. (5)"},{"x":58,"y":400,"s":"Be²⁺ in field Eq. (5)"},{"x":59,"y":7.9,"s":"Be²⁺ in field Eq. (5)"},{"x":60,"y":250,"s":"Be²⁺ in field Eq. (5)"},{"x":61,"y":1.58,"s":"Be²⁺ in field Eq. (5)"},{"x":62,"y":400,"s":"Be²⁺ in field Eq. (5)"},{"x":63,"y":12.6,"s":"Be²⁺ in field Eq. (5)"},{"x":64,"y":200,"s":"Be²⁺ in field Eq. (5)"},{"x":65,"y":0.5,"s":"Be²⁺ in field Eq. (5)"},{"x":66,"y":320,"s":"Be²⁺ in field Eq. (5)"},{"x":67,"y":6.3,"s":"Be²⁺ in field Eq. (5)"},{"x":68,"y":158,"s":"Be²⁺ in field Eq. (5)"},{"x":69,"y":1,"s":"Be²⁺ in field Eq. (5)"},{"x":70,"y":250,"s":"Be²⁺ in field Eq. (5)"},{"x":71,"y":10,"s":"Be²⁺ in field Eq. (5)"},{"x":72,"y":200,"s":"Be²⁺ in field Eq. (5)"},{"x":73,"y":0.32,"s":"Be²⁺ in field Eq. (5)"},{"x":74,"y":158,"s":"Be²⁺ in field Eq. (5)"},{"x":75,"y":5,"s":"Be²⁺ in field Eq. (5)"},{"x":76,"y":200,"s":"Be²⁺ in field Eq. (5)"},{"x":77,"y":1.58,"s":"Be²⁺ in field Eq. (5)"},{"x":78,"y":126,"s":"Be²⁺ in field Eq. (5)"},{"x":79,"y":0.04,"s":"Be²⁺ in field Eq. (5)"},{"x":80,"y":158,"s":"Be²⁺ in field Eq. (5)"},{"x":81.5,"y":4,"s":"Be²⁺ in field Eq. (5)"},{"x":83,"y":126,"s":"Be²⁺ in field Eq. (5)"},{"x":84.5,"y":0.63,"s":"Be²⁺ in field Eq. (5)"},{"x":86,"y":158,"s":"Be²⁺ in field Eq. (5)"},{"x":87.5,"y":3.2,"s":"Be²⁺ in field Eq. (5)"},{"x":89,"y":100,"s":"Be²⁺ in field Eq. (5)"},{"x":90.5,"y":0.25,"s":"Be²⁺ in field Eq. (5)"},{"x":92,"y":126,"s":"Be²⁺ in field Eq. (5)"},{"x":93.5,"y":2,"s":"Be²⁺ in field Eq. (5)"},{"x":95,"y":0.079,"s":"Be²⁺ in field Eq. (5)"},{"x":96.5,"y":100,"s":"Be²⁺ in field Eq. (5)"},{"x":98,"y":2.5,"s":"Be²⁺ in field Eq. (5)"},{"x":99.5,"y":79,"s":"Be²⁺ in field Eq. (5)"},{"x":101,"y":0.63,"s":"Be²⁺ in field Eq. (5)"},{"x":102.5,"y":100,"s":"Be²⁺ in field Eq. (5)"},{"x":104,"y":4,"s":"Be²⁺ in field Eq. (5)"},{"x":105.5,"y":63,"s":"Be²⁺ in field Eq. (5)"},{"x":107,"y":0.32,"s":"Be²⁺ in field Eq. (5)"},{"x":108.5,"y":79,"s":"Be²⁺ in field Eq. (5)"},{"x":110,"y":2,"s":"Be²⁺ in field Eq. (5)"},{"x":111.5,"y":63,"s":"Be²⁺ in field Eq. (5)"},{"x":113,"y":0.158,"s":"Be²⁺ in field Eq. (5)"},{"x":114.5,"y":50,"s":"Be²⁺ in field Eq. (5)"},{"x":116,"y":3.2,"s":"Be²⁺ in field Eq. (5)"},{"x":117.5,"y":63,"s":"Be²⁺ in field Eq. (5)"},{"x":119,"y":0.5,"s":"Be²⁺ in field Eq. (5)"},{"x":120.5,"y":79,"s":"Be²⁺ in field Eq. (5)"},{"x":122,"y":4,"s":"Be²⁺ in field Eq. (5)"},{"x":123.5,"y":50,"s":"Be²⁺ in field Eq. (5)"},{"x":125,"y":1,"s":"Be²⁺ in field Eq. (5)"},{"x":126.5,"y":63,"s":"Be²⁺ in field Eq. (5)"},{"x":128,"y":2.5,"s":"Be²⁺ in field Eq. (5)"},{"x":129.5,"y":40,"s":"Be²⁺ in field Eq. (5)"},{"x":131,"y":0.63,"s":"Be²⁺ in field Eq. (5)"},{"x":132.5,"y":32,"s":"Be²⁺ in field Eq. (5)"},{"x":134,"y":2,"s":"Be²⁺ in field Eq. (5)"},{"x":135.5,"y":40,"s":"Be²⁺ in field Eq. (5)"},{"x":137,"y":0.32,"s":"Be²⁺ in field Eq. (5)"},{"x":138.5,"y":20,"s":"Be²⁺ in field Eq. (5)"},{"x":140,"y":1,"s":"Be²⁺ in field Eq. (5)"},{"x":141.5,"y":25,"s":"Be²⁺ in field Eq. (5)"},{"x":143,"y":0.25,"s":"Be²⁺ in field Eq. (5)"},{"x":144.5,"y":15.8,"s":"Be²⁺ in field Eq. (5)"},{"x":146,"y":0.63,"s":"Be²⁺ in field Eq. (5)"},{"x":147.5,"y":10,"s":"Be²⁺ in field Eq. (5)"},{"x":149,"y":0.1,"s":"Be²⁺ in field Eq. (5)"},{"x":150.5,"y":6.3,"s":"Be²⁺ in field Eq. (5)"},{"x":152,"y":0.158,"s":"Be²⁺ in field Eq. (5)"},{"x":153.5,"y":2.5,"s":"Be²⁺ in field Eq. (5)"},{"x":155,"y":0.0158,"s":"Be²⁺ in field Eq. (5)"},{"x":156.5,"y":1,"s":"Be²⁺ in field Eq. (5)"},{"x":158,"y":0.063,"s":"Be²⁺ in field Eq. (5)"},{"x":159.5,"y":0.32,"s":"Be²⁺ in field Eq. (5)"},{"x":161,"y":0.005,"s":"Be²⁺ in field Eq. (5)"},{"x":162.5,"y":0.126,"s":"Be²⁺ in field Eq. (5)"},{"x":164,"y":0.01,"s":"Be²⁺ in field Eq. (5)"},{"x":165.5,"y":0.05,"s":"Be²⁺ in field Eq. (5)"},{"x":167,"y":0.00158,"s":"Be²⁺ in field Eq. (5)"},{"x":168.5,"y":0.0126,"s":"Be²⁺ in field Eq. (5)"},{"x":170,"y":3.2e-4,"s":"Be²⁺ in field Eq. (5)"},{"x":171.5,"y":6.3e-7,"s":"Be²⁺ in field Eq. (5)"},{"x":173,"y":0.002,"s":"Be²⁺ in field Eq. (5)"},{"x":174.5,"y":1.58e-4,"s":"Be²⁺ in field Eq. (5)"},{"x":176,"y":0.001,"s":"Be²⁺ in field Eq. (5)"},{"x":177.5,"y":4e-5,"s":"Be²⁺ in field Eq. (5)"},{"x":179,"y":5e-4,"s":"Be²⁺ in field Eq. (5)"},{"x":180.5,"y":1.58e-5,"s":"Be²⁺ in field Eq. (5)"},{"x":182,"y":2.5e-4,"s":"Be²⁺ in field Eq. (5)"},{"x":183.5,"y":6.3e-6,"s":"Be²⁺ in field Eq. (5)"},{"x":185,"y":1.26e-4,"s":"Be²⁺ in field Eq. (5)"},{"x":186.5,"y":2e-7,"s":"Be²⁺ in field Eq. (5)"},{"x":188,"y":1e-4,"s":"Be²⁺ in field Eq. (5)"},{"x":189.5,"y":1e-5,"s":"Be²⁺ in field Eq. (5)"},{"x":191,"y":7.9e-5,"s":"Be²⁺ in field Eq. (5)"},{"x":192.5,"y":4e-6,"s":"Be²⁺ in field Eq. (5)"},{"x":194,"y":5e-5,"s":"Be²⁺ in field Eq. (5)"},{"x":195.5,"y":7.9e-6,"s":"Be²⁺ in field Eq. (5)"},{"x":197,"y":4e-5,"s":"Be²⁺ in field Eq. (5)"},{"x":198.5,"y":1.58e-6,"s":"Be²⁺ in field Eq. (5)"},{"x":200,"y":2.5e-5,"s":"Be²⁺ in field Eq. (5)"}
],
"exc":[
{"x":0,"y":10,"s":"Be"},{"x":2,"y":12.6,"s":"Be"},{"x":4,"y":40,"s":"Be"},{"x":5.2,"y":400,"s":"Be"},{"x":6,"y":20000,"s":"Be"},{"x":6.5,"y":100,"s":"Be"},{"x":6.9,"y":1.26,"s":"Be"},{"x":7.5,"y":3200,"s":"Be"},{"x":8,"y":10,"s":"Be"},{"x":8.6,"y":400,"s":"Be"},{"x":9.3,"y":0.032,"s":"Be"},{"x":9.8,"y":3.2,"s":"Be"},{"x":10.5,"y":2,"s":"Be"},{"x":12,"y":3.2,"s":"Be"},{"x":13.5,"y":2.5,"s":"Be"},{"x":14.5,"y":10,"s":"Be"},{"x":15,"y":1.26,"s":"Be"},{"x":16,"y":4,"s":"Be"},{"x":17.2,"y":1.58,"s":"Be"},{"x":17.9,"y":0.0158,"s":"Be"},{"x":18.5,"y":1,"s":"Be"},{"x":19.5,"y":1.58,"s":"Be"},{"x":21,"y":0.79,"s":"Be"},{"x":23,"y":0.4,"s":"Be"},{"x":25,"y":0.2,"s":"Be"},{"x":26.5,"y":0.126,"s":"Be"},{"x":28,"y":0.126,"s":"Be"},{"x":30,"y":0.25,"s":"Be"},{"x":31.8,"y":0.5,"s":"Be"},{"x":33,"y":3.2,"s":"Be"},{"x":34,"y":32,"s":"Be"},{"x":34.7,"y":790,"s":"Be"},{"x":35.2,"y":10,"s":"Be"},{"x":35.8,"y":250,"s":"Be"},{"x":36.3,"y":1,"s":"Be"},{"x":37,"y":63,"s":"Be"},{"x":37.6,"y":0.032,"s":"Be"},{"x":38.3,"y":2,"s":"Be"},{"x":39.5,"y":0.63,"s":"Be"},{"x":41,"y":0.79,"s":"Be"},{"x":43,"y":0.4,"s":"Be"},{"x":45,"y":0.32,"s":"Be"},{"x":50,"y":0.32,"s":"Be"},{"x":55,"y":0.25,"s":"Be"},{"x":60,"y":0.2,"s":"Be"},{"x":66,"y":0.126,"s":"Be"},{"x":80,"y":0.063,"s":"Be"},{"x":100,"y":0.022,"s":"Be"},{"x":120,"y":0.0089,"s":"Be"},{"x":132,"y":0.005,"s":"Be"},{"x":150,"y":0.0025,"s":"Be"},{"x":170,"y":0.00126,"s":"Be"},{"x":178,"y":0.001,"s":"Be"},{"x":185,"y":7.1e-4,"s":"Be"},
{"x":0,"y":7.2,"s":"Be⁺"},{"x":3,"y":12.6,"s":"Be⁺"},{"x":5,"y":40,"s":"Be⁺"},{"x":7,"y":200,"s":"Be⁺"},{"x":8.5,"y":1000,"s":"Be⁺"},{"x":9.9,"y":1e5,"s":"Be⁺"},{"x":10.5,"y":1580,"s":"Be⁺"},{"x":11.2,"y":200,"s":"Be⁺"},{"x":12.2,"y":25,"s":"Be⁺"},{"x":13.2,"y":6.3,"s":"Be⁺"},{"x":14.5,"y":1.58,"s":"Be⁺"},{"x":15.5,"y":2.5,"s":"Be⁺"},{"x":16.3,"y":10,"s":"Be⁺"},{"x":17,"y":400,"s":"Be⁺"},{"x":17.5,"y":3.2,"s":"Be⁺"},{"x":18.3,"y":2,"s":"Be⁺"},{"x":19,"y":4,"s":"Be⁺"},{"x":19.6,"y":15.8,"s":"Be⁺"},{"x":20.2,"y":3.2,"s":"Be⁺"},{"x":21.5,"y":5,"s":"Be⁺"},{"x":23,"y":10,"s":"Be⁺"},{"x":24.5,"y":32,"s":"Be⁺"},{"x":25.8,"y":126,"s":"Be⁺"},{"x":26.7,"y":400,"s":"Be⁺"},{"x":27.2,"y":1000,"s":"Be⁺"},{"x":27.8,"y":250,"s":"Be⁺"},{"x":28.8,"y":40,"s":"Be⁺"},{"x":30,"y":10,"s":"Be⁺"},{"x":31.5,"y":3.2,"s":"Be⁺"},{"x":33,"y":1.26,"s":"Be⁺"},{"x":34.5,"y":0.63,"s":"Be⁺"},{"x":36,"y":0.32,"s":"Be⁺"},{"x":37.5,"y":0.2,"s":"Be⁺"},{"x":38.5,"y":0.14,"s":"Be⁺"},{"x":39.1,"y":0.014,"s":"Be⁺"},{"x":39.7,"y":0.25,"s":"Be⁺"},{"x":40.5,"y":0.5,"s":"Be⁺"},{"x":41.3,"y":400,"s":"Be⁺"},{"x":41.9,"y":0.32,"s":"Be⁺"},{"x":42.8,"y":0.63,"s":"Be⁺"},{"x":43.6,"y":0.126,"s":"Be⁺"},{"x":44.5,"y":50,"s":"Be⁺"},{"x":45.1,"y":0.4,"s":"Be⁺"},{"x":45.6,"y":0.0079,"s":"Be⁺"},{"x":46.5,"y":50,"s":"Be⁺"},{"x":47.2,"y":0.126,"s":"Be⁺"},{"x":48,"y":1.58,"s":"Be⁺"},{"x":48.6,"y":0.05,"s":"Be⁺"},{"x":49.4,"y":2.5,"s":"Be⁺"},{"x":50.2,"y":0.158,"s":"Be⁺"},{"x":51,"y":0.63,"s":"Be⁺"},{"x":52,"y":0.25,"s":"Be⁺"},{"x":53,"y":0.5,"s":"Be⁺"},{"x":54.5,"y":0.2,"s":"Be⁺"},{"x":56,"y":0.4,"s":"Be⁺"},{"x":57.5,"y":0.158,"s":"Be⁺"},{"x":59,"y":0.32,"s":"Be⁺"},{"x":60.5,"y":0.126,"s":"Be⁺"},{"x":62,"y":0.32,"s":"Be⁺"},{"x":63.5,"y":0.158,"s":"Be⁺"},{"x":65,"y":0.32,"s":"Be⁺"},{"x":66.5,"y":0.063,"s":"Be⁺"},{"x":67.3,"y":0.4,"s":"Be⁺"},{"x":68,"y":0.005,"s":"Be⁺"},{"x":68.8,"y":0.25,"s":"Be⁺"},{"x":70,"y":0.126,"s":"Be⁺"},{"x":72,"y":0.158,"s":"Be⁺"},{"x":75,"y":0.1,"s":"Be⁺"},{"x":80,"y":0.079,"s":"Be⁺"},{"x":85,"y":0.056,"s":"Be⁺"},{"x":88,"y":0.05,"s":"Be⁺"},{"x":90,"y":0.126,"s":"Be⁺"},{"x":90.8,"y":0.0158,"s":"Be⁺"},{"x":91.4,"y":0.25,"s":"Be⁺"},{"x":91.8,"y":6.3e-4,"s":"Be⁺"},{"x":92.4,"y":0.126,"s":"Be⁺"},{"x":93.2,"y":0.02,"s":"Be⁺"},{"x":94,"y":0.05,"s":"Be⁺"},{"x":96,"y":0.032,"s":"Be⁺"},{"x":100,"y":0.032,"s":"Be⁺"},{"x":105,"y":0.025,"s":"Be⁺"},{"x":110,"y":0.02,"s":"Be⁺"},{"x":120,"y":0.0126,"s":"Be⁺"},{"x":132,"y":0.0079,"s":"Be⁺"},{"x":150,"y":0.0045,"s":"Be⁺"},{"x":170,"y":0.0025,"s":"Be⁺"},{"x":185,"y":0.0018,"s":"Be⁺"},{"x":200,"y":0.00126,"s":"Be⁺"},
{"x":0,"y":1.38,"s":"Be²⁺"},{"x":5,"y":1.41,"s":"Be²⁺"},{"x":10,"y":1.58,"s":"Be²⁺"},{"x":15,"y":2,"s":"Be²⁺"},{"x":18,"y":2.8,"s":"Be²⁺"},{"x":20,"y":4,"s":"Be²⁺"},{"x":21,"y":2,"s":"Be²⁺"},{"x":22,"y":6.3,"s":"Be²⁺"},{"x":24,"y":10,"s":"Be²⁺"},{"x":26,"y":25,"s":"Be²⁺"},{"x":28,"y":100,"s":"Be²⁺"},{"x":29.5,"y":500,"s":"Be²⁺"},{"x":30.3,"y":4000,"s":"Be²⁺"},{"x":30.8,"y":1.58e6,"s":"Be²⁺"},{"x":31.3,"y":4000,"s":"Be²⁺"},{"x":32.2,"y":630,"s":"Be²⁺"},{"x":33.5,"y":100,"s":"Be²⁺"},{"x":35,"y":32,"s":"Be²⁺"},{"x":37,"y":10,"s":"Be²⁺"},{"x":40,"y":5,"s":"Be²⁺"},{"x":43,"y":3.2,"s":"Be²⁺"},{"x":45,"y":2.5,"s":"Be²⁺"},{"x":46.5,"y":1.58,"s":"Be²⁺"},{"x":47.5,"y":6.3,"s":"Be²⁺"},{"x":48.5,"y":63,"s":"Be²⁺"},{"x":49.3,"y":400,"s":"Be²⁺"},{"x":49.7,"y":7900,"s":"Be²⁺"},{"x":50.1,"y":250,"s":"Be²⁺"},{"x":51,"y":7.9,"s":"Be²⁺"},{"x":52.5,"y":2.5,"s":"Be²⁺"},{"x":54,"y":1.58,"s":"Be²⁺"},{"x":55.5,"y":2,"s":"Be²⁺"},{"x":56.5,"y":20,"s":"Be²⁺"},{"x":57,"y":790,"s":"Be²⁺"},{"x":57.5,"y":10,"s":"Be²⁺"},{"x":58.5,"y":1.26,"s":"Be²⁺"},{"x":59.5,"y":2.5,"s":"Be²⁺"},{"x":60.3,"y":50,"s":"Be²⁺"},{"x":60.9,"y":1,"s":"Be²⁺"},{"x":61.5,"y":4,"s":"Be²⁺"},{"x":62.2,"y":15.8,"s":"Be²⁺"},{"x":62.8,"y":2,"s":"Be²⁺"},{"x":63.3,"y":12.6,"s":"Be²⁺"},{"x":63.8,"y":0.4,"s":"Be²⁺"},{"x":64.3,"y":7.9,"s":"Be²⁺"},{"x":64.8,"y":0.23,"s":"Be²⁺"},{"x":65.3,"y":3.2,"s":"Be²⁺"},{"x":66,"y":0.79,"s":"Be²⁺"},{"x":68,"y":0.71,"s":"Be²⁺"},{"x":80,"y":0.45,"s":"Be²⁺"},{"x":100,"y":0.2,"s":"Be²⁺"},{"x":120,"y":0.105,"s":"Be²⁺"},{"x":132,"y":0.072,"s":"Be²⁺"},{"x":150,"y":0.05,"s":"Be²⁺"},{"x":170,"y":0.035,"s":"Be²⁺"},{"x":200,"y":0.023,"s":"Be²⁺"}
]
},
"spacing":14,
"bounds":"flush",
"resolve":{"scale":{"x":"independent","y":"independent","color":"independent","strokeDash":"independent"}},
"vconcat":[
{
"width":503,"height":248,
"resolve":{"axis":{"x":"independent","y":"independent"}},
"layer":[
 {"data":{"values":[{"x":30.6}]},"mark":{"type":"rule","color":"#8c8c8c","strokeWidth":1.5,"strokeDash":[8,5]},
  "encoding":{"x":{"field":"x","type":"quantitative","scale":{"domain":[0,200],"nice":false},"axis":null}}},
 {"data":{"name":"hhg"},"transform":[{"filter":"datum.s === 'Be'"}],
  "mark":{"type":"line","clip":true,"strokeWidth":4.5,"strokeJoin":"bevel"},
  "encoding":{
   "x":{"field":"x","type":"quantitative","scale":{"domain":[0,200],"nice":false},"axis":{"orient":"bottom","values":[0,4,8,12,16,20,24,28,32,36,40,44,48,52,56,60,64,68,72,76,80,84,88,92,96,100,104,108,112,116,120,124,128,132,136,140,144,148,152,156,160,164,168,172,176,180,184,188,192,196,200],"labels":false,"title":null}},
   "y":{"field":"y","type":"quantitative","scale":{"type":"log","domain":[1e-10,7e9],"nice":false},"axis":{"orient":"left","values":[1e-10,1e-9,1e-8,1e-7,1e-6,1e-5,1e-4,0.001,0.01,0.1,1,10,100,1000,10000,100000,1000000,10000000,100000000,1000000000],"labelExpr":"['10⁻¹⁰','','','10⁻⁷','','','10⁻⁴','','','10⁻¹','','','10²','','','10⁵','','','10⁸',''][round(log(datum.value)/LN10)+10]","title":"Intensity (arb. units)","titlePadding":0,"titleY":115}},
   "color":{"field":"s","type":"nominal","scale":{"domain":["Be","Be⁺","Be²⁺","Be²⁺ in field Eq. (5)"],"range":["#ff0000","#000000","#0000ff","#22dd22"]},
     "legend":{"title":null,"orient":"none","legendX":320,"legendY":5.5,"clipHeight":23,"symbolSize":676,"symbolStrokeWidth":{"expr":"datum.value === 'Be' ? 5 : datum.value === 'Be⁺' ? 3 : 1.4"},"labelFontSize":17,"labelOffset":12.5,"rowPadding":0}},
   "strokeDash":{"field":"s","type":"nominal","scale":{"domain":["Be","Be⁺","Be²⁺","Be²⁺ in field Eq. (5)"],"range":[[1,0],[2,1.5],[1.5,1.2],[3,2.5]]},
     "legend":{"title":null,"orient":"none","legendX":320,"legendY":5.5,"clipHeight":23,"symbolSize":676,"symbolStrokeWidth":{"expr":"datum.value === 'Be' ? 5 : datum.value === 'Be⁺' ? 3 : 1.4"},"labelFontSize":17,"labelOffset":12.5,"rowPadding":0}}
  }},
 {"data":{"name":"hhg"},"transform":[{"filter":"datum.s === 'Be⁺'"}],
  "mark":{"type":"line","clip":true,"strokeWidth":3,"strokeJoin":"bevel"},
  "encoding":{"x":{"field":"x","type":"quantitative","axis":null},"y":{"field":"y","type":"quantitative","axis":null},"color":{"field":"s","type":"nominal"},"strokeDash":{"field":"s","type":"nominal"}}},
 {"data":{"name":"hhg"},"transform":[{"filter":"datum.s === 'Be²⁺'"}],
  "mark":{"type":"line","clip":true,"strokeWidth":1.2,"strokeJoin":"bevel"},
  "encoding":{"x":{"field":"x","type":"quantitative","axis":null},"y":{"field":"y","type":"quantitative","axis":null},"color":{"field":"s","type":"nominal"},"strokeDash":{"field":"s","type":"nominal"}}},
 {"data":{"name":"hhg"},"transform":[{"filter":"datum.s === 'Be²⁺ in field Eq. (5)'"}],
  "mark":{"type":"line","clip":true,"strokeWidth":1.2,"strokeJoin":"bevel"},
  "encoding":{"x":{"field":"x","type":"quantitative","axis":null},"y":{"field":"y","type":"quantitative","axis":null},"color":{"field":"s","type":"nominal"},"strokeDash":{"field":"s","type":"nominal"}}},
 {"data":{"values":[{"x":6.4,"y":8.3e7,"t":"(a)"}]},"mark":{"type":"text","align":"left","baseline":"middle","fontSize":21},
  "encoding":{"x":{"field":"x","type":"quantitative","axis":null},"y":{"field":"y","type":"quantitative","axis":null},"text":{"field":"t"}}},
 {"data":{"values":[{"x":33.8,"y":5.2e-4,"t":"HHG spectra calculated by simulations"},{"x":33.8,"y":7.6e-6,"t":"starting from Be, Be⁺, and Be²⁺, respectively"}]},
  "mark":{"type":"text","align":"left","baseline":"middle","fontSize":16.5},
  "encoding":{
   "x":{"field":"x","type":"quantitative","axis":{"orient":"top","values":[0,4,8,12,16,20,24,28,32,36,40,44,48,52,56,60,64,68,72,76,80,84,88,92,96,100,104,108,112,116,120,124,128,132,136,140,144,148,152,156,160,164,168,172,176,180,184,188,192,196,200],"labels":false,"title":null}},
   "y":{"field":"y","type":"quantitative","axis":{"orient":"right","values":[1e-10,1e-9,1e-8,1e-7,1e-6,1e-5,1e-4,0.001,0.01,0.1,1,10,100,1000,10000,100000,1000000,10000000,100000000,1000000000],"labels":false,"title":null}},
   "text":{"field":"t"}}}
]
},
{
"width":503,"height":142,
"resolve":{"axis":{"x":"independent","y":"independent"}},
"layer":[
 {"data":{"values":[{"x":30.6}]},"mark":{"type":"rule","color":"#8c8c8c","strokeWidth":1.5,"strokeDash":[8,5]},
  "encoding":{"x":{"field":"x","type":"quantitative","scale":{"domain":[0,200],"nice":false},"axis":null}}},
 {"data":{"name":"exc"},"transform":[{"filter":"datum.s === 'Be'"}],
  "mark":{"type":"line","clip":true,"strokeWidth":2.5,"strokeJoin":"bevel"},
  "encoding":{
   "x":{"field":"x","type":"quantitative","scale":{"domain":[0,200],"nice":false},"axis":{"orient":"bottom","values":[0,4,8,12,16,20,24,28,32,36,40,44,48,52,56,60,64,68,72,76,80,84,88,92,96,100,104,108,112,116,120,124,128,132,136,140,144,148,152,156,160,164,168,172,176,180,184,188,192,196,200],"labelExpr":"datum.value % 40 === 0 ? datum.label : ''","title":"Photon energy (eV)","titlePadding":7}},
   "y":{"field":"y","type":"quantitative","scale":{"type":"log","domain":[0.001,1e7],"nice":false},"axis":{"orient":"left","values":[0.001,0.01,0.1,1,10,100,1000,10000,100000,1000000],"labelExpr":"['10⁻³','','','10⁰','','','10³','','','10⁶'][round(log(datum.value)/LN10)+3]","title":"Intensity (arb. units)","titlePadding":0}},
   "color":{"field":"s","type":"nominal","scale":{"domain":["Be","Be⁺","Be²⁺"],"range":["#ff0000","#000000","#0000ff"]},
     "legend":{"title":null,"orient":"none","legendX":413,"legendY":5.5,"clipHeight":25,"symbolSize":841,"symbolStrokeWidth":{"expr":"datum.value === 'Be²⁺' ? 2 : 2.8"},"labelFontSize":19,"labelOffset":12,"rowPadding":0}},
   "strokeDash":{"field":"s","type":"nominal","scale":{"domain":["Be","Be⁺","Be²⁺"],"range":[[1,0],[1,0],[1.5,1.2]]},
     "legend":{"title":null,"orient":"none","legendX":413,"legendY":5.5,"clipHeight":25,"symbolSize":841,"symbolStrokeWidth":{"expr":"datum.value === 'Be²⁺' ? 2 : 2.8"},"labelFontSize":19,"labelOffset":12,"rowPadding":0}}
  }},
 {"data":{"name":"exc"},"transform":[{"filter":"datum.s === 'Be⁺'"}],
  "mark":{"type":"line","clip":true,"strokeWidth":2.8,"strokeJoin":"bevel"},
  "encoding":{"x":{"field":"x","type":"quantitative","axis":null},"y":{"field":"y","type":"quantitative","axis":null},"color":{"field":"s","type":"nominal"},"strokeDash":{"field":"s","type":"nominal"}}},
 {"data":{"name":"exc"},"transform":[{"filter":"datum.s === 'Be²⁺'"}],
  "mark":{"type":"line","clip":true,"strokeWidth":2,"strokeJoin":"bevel"},
  "encoding":{"x":{"field":"x","type":"quantitative","axis":null},"y":{"field":"y","type":"quantitative","axis":null},"color":{"field":"s","type":"nominal"},"strokeDash":{"field":"s","type":"nominal"}}},
 {"data":{"values":[{"x":12.6,"y":1.9e5,"t":"(b)"}]},"mark":{"type":"text","align":"left","baseline":"middle","fontSize":21},
  "encoding":{"x":{"field":"x","type":"quantitative","axis":null},"y":{"field":"y","type":"quantitative","axis":null},"text":{"field":"t"}}},
 {"data":{"values":[{"x":87.9,"y":6.2e5,"t":"Excitation spectra"}]},
  "mark":{"type":"text","align":"left","baseline":"middle","fontSize":19},
  "encoding":{
   "x":{"field":"x","type":"quantitative","axis":{"orient":"top","values":[0,4,8,12,16,20,24,28,32,36,40,44,48,52,56,60,64,68,72,76,80,84,88,92,96,100,104,108,112,116,120,124,128,132,136,140,144,148,152,156,160,164,168,172,176,180,184,188,192,196,200],"labels":false,"title":null}},
   "y":{"field":"y","type":"quantitative","axis":{"orient":"right","values":[0.001,0.01,0.1,1,10,100,1000,10000,100000,1000000],"labels":false,"title":null}},
   "text":{"field":"t"}}}
]
}
]
}
